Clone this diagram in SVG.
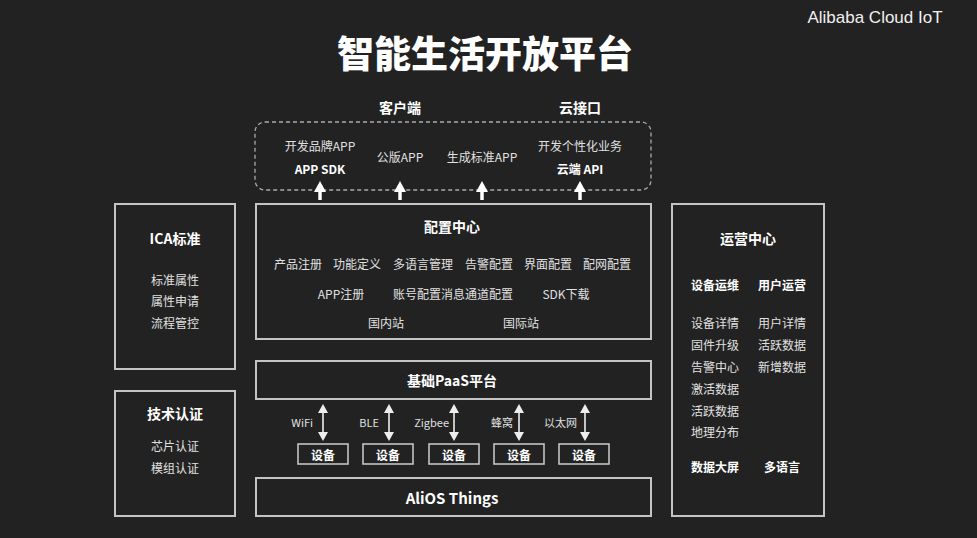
<svg xmlns="http://www.w3.org/2000/svg" width="977" height="538" viewBox="0 0 977 538">
<style>
text{font-family:"Noto Sans CJK SC","Noto Sans",sans-serif;text-anchor:middle;dominant-baseline:central;}
.t{fill:#fff;font-weight:bold;font-size:14px}
.b{fill:#fff;font-weight:bold;font-size:12px}
.n{fill:#e0e0e0;font-size:12px}
.l{fill:#e0e0e0;font-size:11px;text-anchor:end}
.box{fill:none;stroke:#c4c4c4;stroke-width:2}
.sbox{fill:none;stroke:#c4c4c4;stroke-width:1.6}
</style>
<defs>
<marker id="up" markerUnits="userSpaceOnUse" markerWidth="11" markerHeight="12" refX="7" refY="6" orient="auto" viewBox="0 0 11 12"><path d="M0,0 L11,6 L0,12 Z" fill="#fff"/></marker>
<marker id="ah" markerUnits="userSpaceOnUse" markerWidth="9" markerHeight="10" refX="7" refY="5" orient="auto-start-reverse" viewBox="0 0 9 10"><path d="M0,0 L9,5 L0,10 Z" fill="#eee"/></marker>
</defs>
<rect width="977" height="538" fill="#222"/>
<text x="875" y="17" style="fill:#f0f0f0;font-family:'Liberation Sans',Arial,sans-serif;font-size:17px">Alibaba Cloud IoT</text>
<text x="485" y="52" style="fill:#fff;font-weight:900;font-size:37px">智能生活开放平台</text>

<g id="client">
<text class="t" x="400" y="107">客户端</text>
<text class="t" x="580" y="107">云接口</text>
<rect x="255" y="122" width="396" height="68" rx="10" fill="none" stroke="#aaa" stroke-width="1.3" stroke-dasharray="4,3"/>
<text class="n" x="320" y="145">开发品牌APP</text>
<text class="b" x="320" y="168">APP SDK</text>
<text class="n" x="400" y="156">公版APP</text>
<text class="n" x="482" y="156">生成标准APP</text>
<text class="n" x="580" y="145">开发个性化业务</text>
<text class="b" x="580" y="168">云端 API</text>
</g>

<g id="config">
<rect class="box" x="256" y="204" width="395" height="135"/>
<text class="t" x="452" y="226">配置中心</text>
<text class="n" x="298" y="263">产品注册</text>
<text class="n" x="357" y="263">功能定义</text>
<text class="n" x="423" y="263">多语言管理</text>
<text class="n" x="489" y="263">告警配置</text>
<text class="n" x="548" y="263">界面配置</text>
<text class="n" x="607" y="263">配网配置</text>
<text class="n" x="341" y="293">APP注册</text>
<text class="n" x="453" y="293">账号配置消息通道配置</text>
<text class="n" x="566" y="293">SDK下载</text>
<text class="n" x="386" y="322">国内站</text>
<text class="n" x="521" y="322">国际站</text>
</g>

<g id="paas">
<rect class="box" x="256" y="361" width="395" height="38"/>
<text class="t" x="452" y="380">基础PaaS平台</text>
</g>

<g id="devices">
<rect class="sbox" x="298" y="444" width="50" height="20"/><text class="b" x="323" y="454">设备</text>
<rect class="sbox" x="363" y="444" width="50" height="20"/><text class="b" x="388" y="454">设备</text>
<rect class="sbox" x="429" y="444" width="50" height="20"/><text class="b" x="454" y="454">设备</text>
<rect class="sbox" x="494" y="444" width="50" height="20"/><text class="b" x="519" y="454">设备</text>
<rect class="sbox" x="559" y="444" width="50" height="20"/><text class="b" x="584" y="454">设备</text>
</g>

<g id="alios">
<rect class="box" x="256" y="478" width="395" height="38"/>
<text class="t" x="452" y="497" style="font-size:15px">AliOS Things</text>
</g>

<g id="ica">
<rect class="box" x="115" y="204" width="120" height="165"/>
<text class="t" x="175" y="238">ICA标准</text>
<text class="n" x="175" y="279">标准属性</text>
<text class="n" x="175" y="300">属性申请</text>
<text class="n" x="175" y="322">流程管控</text>
</g>

<g id="tech">
<rect class="box" x="115" y="391" width="120" height="125"/>
<text class="t" x="175" y="413">技术认证</text>
<text class="n" x="175" y="445">芯片认证</text>
<text class="n" x="175" y="467">模组认证</text>
</g>

<g id="ops">
<rect class="box" x="672" y="204" width="152" height="312"/>
<text class="t" x="748" y="238">运营中心</text>
<text class="b" x="715" y="284">设备运维</text>
<text class="b" x="782" y="284">用户运营</text>
<text class="n" x="715" y="322">设备详情</text>
<text class="n" x="715" y="344">固件升级</text>
<text class="n" x="715" y="366">告警中心</text>
<text class="n" x="715" y="388">激活数据</text>
<text class="n" x="715" y="410">活跃数据</text>
<text class="n" x="715" y="431">地理分布</text>
<text class="n" x="782" y="322">用户详情</text>
<text class="n" x="782" y="344">活跃数据</text>
<text class="n" x="782" y="366">新增数据</text>
<text class="b" x="715" y="466">数据大屏</text>
<text class="b" x="782" y="466">多语言</text>
</g>

<g id="connectors">
<g stroke="#fff" stroke-width="3.5" marker-end="url(#up)">
<line x1="320" y1="200" x2="320" y2="185"/>
<line x1="400" y1="200" x2="400" y2="185"/>
<line x1="482" y1="200" x2="482" y2="185"/>
<line x1="580" y1="200" x2="580" y2="185"/>
</g>
<g stroke="#eee" stroke-width="1.6" marker-start="url(#ah)" marker-end="url(#ah)">
<line x1="323" y1="406" x2="323" y2="439"/>
<line x1="389" y1="406" x2="389" y2="439"/>
<line x1="454" y1="406" x2="454" y2="439"/>
<line x1="519" y1="406" x2="519" y2="439"/>
<line x1="585" y1="406" x2="585" y2="439"/>
</g>
<text class="l" x="313" y="422">WiFi</text>
<text class="l" x="379" y="422">BLE</text>
<text class="l" x="449" y="422">Zigbee</text>
<text class="l" x="513" y="422">蜂窝</text>
<text class="l" x="577" y="422">以太网</text>
</g>
</svg>
